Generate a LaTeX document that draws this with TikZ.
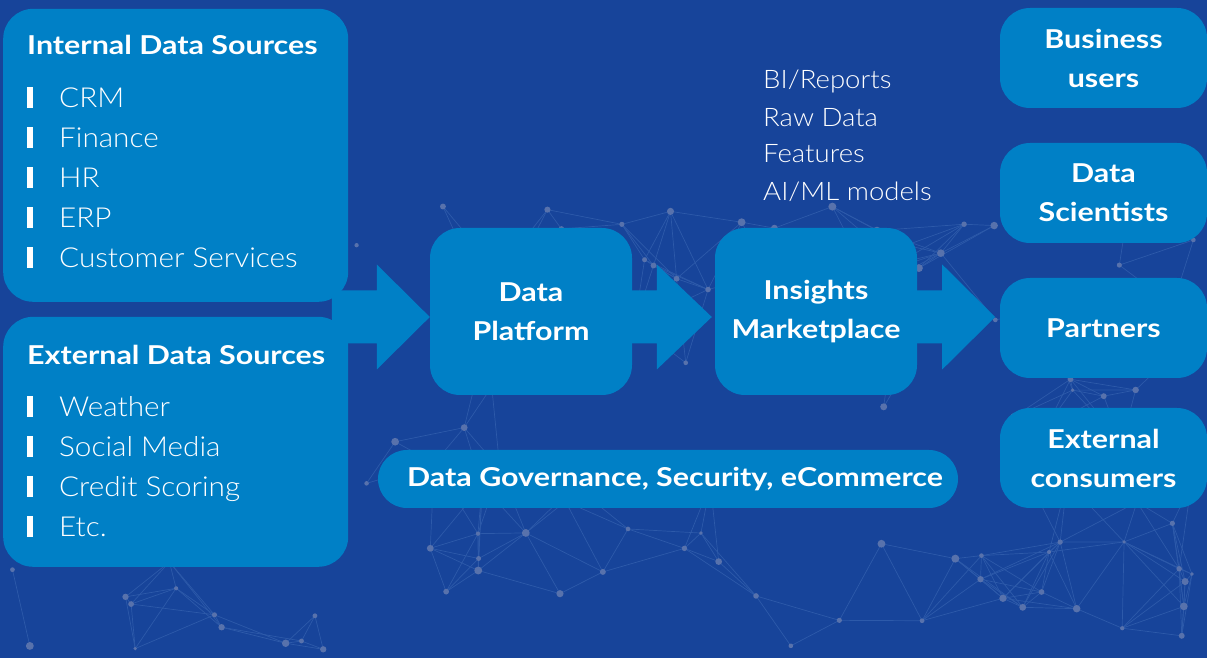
\documentclass[tikz,border=0pt]{standalone}
\usepackage{fontspec}
\setmainfont{Lato}[UprightFont={* Light},BoldFont={* Bold},
  UprightFeatures={FakeStretch=1.08},BoldFeatures={FakeStretch=1.17}]
\usetikzlibrary{calc,backgrounds}
\definecolor{bg}{RGB}{23,68,154}
\definecolor{boxc}{RGB}{0,128,198}
\definecolor{netl}{RGB}{45,90,170}
\definecolor{netd}{RGB}{88,114,172}
\begin{document}
\begin{tikzpicture}[x=1pt,y=1pt,
  box/.style={fill=boxc, rounded corners=30pt, text=white, align=center, inner sep=0pt,
    font=\bfseries\fontsize{26}{39}\selectfont},
  blockarrow/.style={fill=boxc},
  item/.style={text=white, inner sep=0pt, anchor=base west, font=\fontsize{27.5}{32}\selectfont},
  head/.style={text=white, inner sep=0pt, anchor=base west, font=\bfseries\fontsize{26}{30}\selectfont},
  bar/.style={fill=white},
  netline/.style={draw=netl, line width=0.7pt},
  netdot/.style={fill=netd}]
\useasboundingbox (0,0) rectangle (1207,658);
\begin{pgfonlayer}{background}
\fill[bg] (0,0) rectangle (1207,658);
\pgfmathsetseed{12}
\foreach \i in {1,...,110}{%
  \pgfmathsetmacro\rx{ifthenelse(\i<14, 5+340*rnd, 340+867*rnd)}%
  \pgfmathsetmacro\ry{ifthenelse(\i<14, 5+95*rnd, 5+460*rnd)}%
  \expandafter\xdef\csname nx\i\endcsname{\rx}%
  \expandafter\xdef\csname ny\i\endcsname{\ry}%
}
\foreach \i in {1,...,109}{%
  \pgfmathtruncatemacro\s{\i+1}%
  \foreach \j in {\s,...,110}{%
    \edef\xa{\csname nx\i\endcsname}\edef\ya{\csname ny\i\endcsname}%
    \edef\xb{\csname nx\j\endcsname}\edef\yb{\csname ny\j\endcsname}%
    \pgfmathsetmacro\dd{veclen(\xa-\xb,\ya-\yb)}%
    \ifdim\dd pt<88pt \draw[netline] (\xa,\ya) -- (\xb,\yb);\fi
  }%
}
\foreach \i in {1,...,110}{%
  \edef\xa{\csname nx\i\endcsname}\edef\ya{\csname ny\i\endcsname}%
  \pgfmathsetmacro\rr{1.8+2.2*rnd}%
  \fill[netdot] (\xa,\ya) circle (\rr);
}
\end{pgfonlayer}

% source boxes
\node[box, minimum width=345, minimum height=293, anchor=south west] (int) at (3,356) {};
\node[box, minimum width=345, minimum height=250, anchor=south west] (ext) at (3,91) {};

\node[head] (inth) at (27,603) {Internal Data Sources};
\foreach \t/\yy [count=\k] in {CRM/550, Finance/510, HR/470, ERP/430, Customer Services/390}{
  \fill[bar] (27,\yy) rectangle (33,\yy+20.5);
  \node[item] (inti\k) at (59,\yy) {\t};
}
\node[head] (exth) at (27,293) {External Data Sources};
\foreach \t/\yy [count=\k] in {Weather/241, Social Media/201, Credit Scoring/161, Etc./121}{
  \fill[bar] (27,\yy) rectangle (33,\yy+20.5);
  \node[item] (exti\k) at (59,\yy) {\t};
}

% central boxes
\node[box, minimum width=202, minimum height=167] (dp) at (531,346.5) {Data\\Platform};
\node[box, minimum width=202, minimum height=167] (im) at (816,346.5) {Insights\\Marketplace};

% outputs list
\foreach \t/\yy [count=\k] in {{BI/Reports}/569, {Raw Data}/531, {Features}/495, {AI/ML models}/457}{
  \node[item, font=\fontsize{25.5}{30}\selectfont] (out\k) at (763,\yy) {\t};
}

% consumers
\node[box, minimum width=207, minimum height=100] (bu) at (1103.5,600) {Business\\users};
\node[box, minimum width=207, minimum height=100] (ds) at (1103.5,465) {Data\\Scientists};
\node[box, minimum width=207, minimum height=100] (pa) at (1103.5,330) {Partners};
\node[box, minimum width=207, minimum height=100] (ec) at (1103.5,200) {External\\consumers};

% governance pill
\node[box, rounded corners=29pt, minimum width=580, minimum height=58] (gov) at (668,179) {\hspace*{14pt}Data Governance, Security, eCommerce};

% block arrows
\begin{pgfonlayer}{background}
\coordinate (t1) at ($(dp.west)+(0,-5.5)$);
\coordinate (t2) at ($(im.west)+(-3,-5.5)$);
\coordinate (t3) at ($(im.east)+(78,-5.5)$);
\fill[blockarrow] (t1) -- ++(-53,52.5) -- ++(0,-26) -- ++(-45,0) -- ++(0,-53) -- ++(45,0) -- ++(0,-26) -- cycle;
\fill[blockarrow] (t2) -- ++(-55,52.5) -- ++(0,-26) -- ++(-40,0) -- ++(0,-53) -- ++(40,0) -- ++(0,-26) -- cycle;
\fill[blockarrow] (t3) -- ++(-53,52.5) -- ++(0,-26) -- ++(-40,0) -- ++(0,-53) -- ++(40,0) -- ++(0,-26) -- cycle;
\end{pgfonlayer}
\end{tikzpicture}
\end{document}
